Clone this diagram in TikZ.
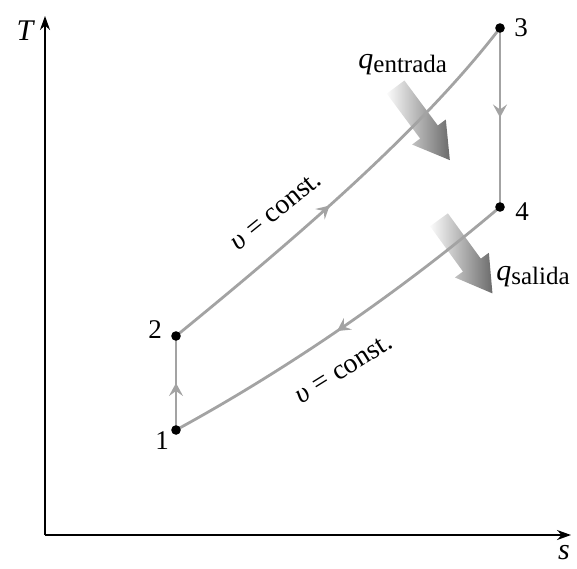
\documentclass[tikz,border=0pt]{standalone}
\usepackage{fontspec}
\setmainfont{Liberation Serif}
\usetikzlibrary{arrows.meta,decorations.markings}
\definecolor{cyc}{gray}{0.64}
\tikzset{
  cycline/.style={draw=cyc, line width=1.4pt},
  midarrow/.style={postaction={decorate}, decoration={markings, mark=at position #1 with {\arrow[cyc]{Stealth[length=6.5pt,width=7pt,inset=2.5pt]}}}},
  dot/.style={circle, fill=black, inner sep=0pt, minimum size=4.8pt},
  axis/.style={draw=black, line width=0.8pt, -{Stealth[length=7pt,width=5pt]}},
  heat/.style={left color=gray!3, right color=black!58, draw=none},
  lbl/.style={font=\fontsize{13.5}{15}\selectfont, inner sep=0pt},
  vlbl/.style={font=\fontsize{15}{17}\selectfont\itshape, inner sep=0pt},
  cst/.style={font=\fontsize{14}{16}\selectfont, inner sep=0pt}
}
\begin{document}
\begin{tikzpicture}[x=0.5pt, y=-0.5pt]
\useasboundingbox (0,0) rectangle (577,568);
% axes
\coordinate (O) at (45,535);
\coordinate (Ty) at (45,16);
\coordinate (Sx) at (571,535);
\draw[axis] (O) -- (Ty);
\draw[axis] (O) -- (Sx);
\node[vlbl] (Tlab) at (25,31) {T};
\node[vlbl] (slab) at (564,553) {s};
% states
\coordinate (p1) at (176,430);
\coordinate (p2) at (176,336);
\coordinate (p3) at (500,28);
\coordinate (p4) at (500,207);
% heat arrows (behind lines)
\begin{scope}[shift={(423,124)}, rotate=-53.4]
  \path[heat] (-46,-11) -- (10,-11) -- (10,-21) -- (45,0) -- (10,21) -- (10,11) -- (-46,11) -- cycle;
\end{scope}
\begin{scope}[shift={(466,257)}, rotate=-54]
  \path[heat] (-46,-11) -- (10,-11) -- (10,-21) -- (45,0) -- (10,21) -- (10,11) -- (-46,11) -- cycle;
\end{scope}
% cycle
\draw[cycline, midarrow=0.5] (p1) -- (p2);
\draw[cycline, midarrow=0.45] (p2) .. controls (296,238) and (420,132) .. (p3);
\draw[cycline, midarrow=0.5] (p3) -- (p4);
\draw[cycline, midarrow=0.52] (p4) .. controls (400,292) and (286,370) .. (p1);
\node[dot] (d1) at (p1) {};
\node[dot] (d2) at (p2) {};
\node[dot] (d3) at (p3) {};
\node[dot] (d4) at (p4) {};
\node[lbl] (l1) at (162,441) {1};
\node[lbl] (l2) at (155,330) {2};
\node[lbl] (l3) at (521,28) {3};
\node[lbl] (l4) at (522,212) {4};
% labels
\node[inner sep=0pt, anchor=base west] (qin) at (358,68) {\fontsize{15}{17}\selectfont\textit{q}\raisebox{-0.35ex}{\fontsize{12.5}{14}\selectfont entrada}};
\node[inner sep=0pt, anchor=base west] (qout) at (496,280) {\fontsize{15}{17}\selectfont\textit{q}\raisebox{-0.35ex}{\fontsize{12.5}{14}\selectfont salida}};
\node[cst, rotate=39] (c1) at (276,211) {\textit{υ} = const.};
\node[cst, rotate=32] (c2) at (344,369) {\textit{υ} = const.};
\end{tikzpicture}
\end{document}
